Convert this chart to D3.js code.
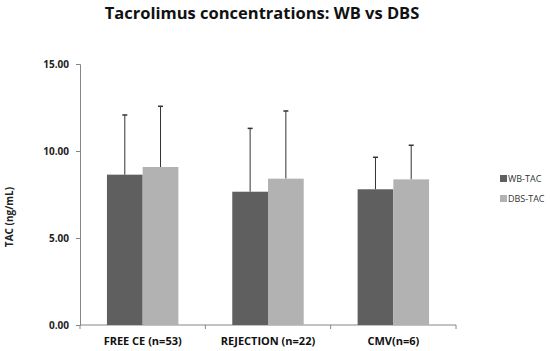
<!DOCTYPE html>
<html>
<head>
<meta charset="utf-8">
<script src="https://cdn.jsdelivr.net/npm/d3@7"></script>
<style>
body{margin:0;background:#fff;}
svg{display:block;}
text{font-family:"Open Sans",Lato,sans-serif;}
</style>
</head>
<body>
<svg id="chart" width="550" height="351"></svg>
<script>
let groups=["FREE CE (n=53)","REJECTION (n=22)","CMV(n=6)"];
let series=["WB-TAC","DBS-TAC"];
let colors=["#5f5f5f","#b2b2b2"];
let meanWB=[8.64,7.66,7.80];
let meanDBS=[9.08,8.41,8.37];
let sdWB=[3.43,3.64,1.84];
let sdDBS=[3.49,3.89,1.96];
let yTicks=[0,5,10,15];

let svg=d3.select("#chart");
let pL=80,pR=456,pT=64,pB=325;

let x=d3.scaleBand().domain(groups).range([pL,pR]).paddingInner(0.43).paddingOuter(0.215);
let xs=d3.scaleBand().domain(series).range([0,x.bandwidth()]);
let y=d3.scaleLinear().domain([0,15]).range([pB,pT]);

// title
svg.append("text").text("Tacrolimus concentrations: WB vs DBS")
  .attr("x",262).attr("y",19).attr("text-anchor","middle")
  .style("font-size","16.5px").style("font-weight","bold").style("fill","#111");

// y axis
let ya=svg.append("g").attr("transform",`translate(${pL},0)`)
  .call(d3.axisLeft(y).tickValues(yTicks).tickSize(4).tickFormat(d3.format(".2f")));
ya.select(".domain").attr("stroke","#868686");
ya.selectAll(".tick line").attr("stroke","#868686");
ya.selectAll(".tick text").attr("x",-11).style("font-size","10px").style("font-weight","bold").style("fill","#222").style("font-family","'Open Sans',sans-serif");

// x axis line + boundary ticks
let step=(pR-pL)/groups.length;
svg.append("line").attr("x1",pL).attr("x2",pR).attr("y1",pB).attr("y2",pB).attr("stroke","#868686");
d3.range(groups.length+1).forEach(i=>{
  svg.append("line").attr("x1",pL+i*step).attr("x2",pL+i*step).attr("y1",pB).attr("y2",pB+4).attr("stroke","#868686");
});
svg.selectAll(".xl").data(groups).enter().append("text")
  .attr("x",d=>x(d)+x.bandwidth()/2).attr("y",345).attr("text-anchor","middle")
  .style("font-size","11px").style("font-weight","bold").style("fill","#111").text(d=>d);

// y label
svg.append("text").text("TAC (ng/mL)")
  .attr("transform","translate(13,217) rotate(-90)").attr("text-anchor","middle")
  .style("font-size","10px").style("font-weight","bold").style("fill","#222");

let data=[];
groups.forEach((g,i)=>{
  data.push({g:g,s:series[0],m:meanWB[i],sd:sdWB[i],c:colors[0]});
  data.push({g:g,s:series[1],m:meanDBS[i],sd:sdDBS[i],c:colors[1]});
});

// error bars
data.forEach(d=>{
  let cx=x(d.g)+xs(d.s)+xs.bandwidth()/2;
  svg.append("line").attr("x1",cx).attr("x2",cx).attr("y1",y(d.m)).attr("y2",y(d.m+d.sd)).attr("stroke","#333").attr("stroke-width",1);
  svg.append("line").attr("x1",cx-2.5).attr("x2",cx+2.5).attr("y1",y(d.m+d.sd)).attr("y2",y(d.m+d.sd)).attr("stroke","#333").attr("stroke-width",1.5);
});

svg.selectAll(".bar").data(data).enter().append("rect")
  .attr("x",d=>x(d.g)+xs(d.s)).attr("width",xs.bandwidth())
  .attr("y",d=>y(d.m)).attr("height",d=>pB-y(d.m)).attr("fill",d=>d.c);

// legend
let leg=svg.append("g");
series.forEach((s,i)=>{
  leg.append("rect").attr("x",500).attr("y",175+i*20).attr("width",7).attr("height",7).attr("fill",colors[i]);
  leg.append("text").text(s).attr("x",508).attr("y",182+i*20).style("font-size","9px").style("fill","#333");
});
</script>
</body>
</html>
